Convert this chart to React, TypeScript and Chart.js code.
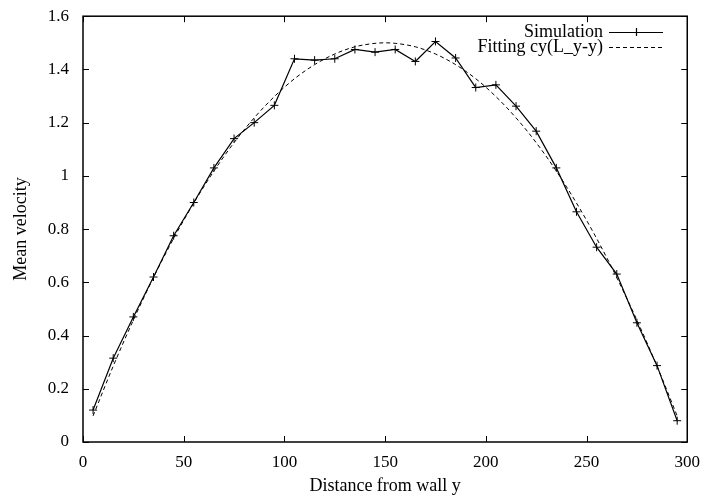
import React, { useEffect, useRef } from "react";
import { Chart, registerables } from "chart.js";

Chart.register(...registerables);

// Data
const simX = [5, 15, 25, 35, 45, 55, 65, 75, 85, 95, 105, 115, 125, 135, 145, 155, 165, 175, 185, 195, 205, 215, 225, 235, 245, 255, 265, 275, 285, 295];
const simY = [0.12, 0.315, 0.47, 0.62, 0.775, 0.9, 1.03, 1.14, 1.2, 1.265, 1.44, 1.435, 1.44, 1.475, 1.465, 1.475, 1.43, 1.505, 1.443, 1.332, 1.342, 1.262, 1.168, 1.03, 0.865, 0.732, 0.631, 0.448, 0.287, 0.08];
const fitX = [5, 15, 25, 35, 45, 55, 65, 75, 85, 95, 105, 115, 125, 135, 145, 150, 155, 165, 175, 185, 195, 205, 215, 225, 235, 245, 255, 265, 275, 285, 295];
const fitY = [0.098, 0.285, 0.458, 0.618, 0.765, 0.898, 1.018, 1.125, 1.218, 1.298, 1.365, 1.418, 1.458, 1.485, 1.498, 1.5, 1.498, 1.485, 1.458, 1.418, 1.365, 1.298, 1.218, 1.125, 1.018, 0.898, 0.765, 0.618, 0.458, 0.285, 0.098];
const seriesLabels = ["Simulation", "Fitting cy(L_y-y)"];
const xTitle = "Distance from wall y";
const yTitle = "Mean velocity";

const FONT = "'Liberation Serif', 'DejaVu Serif', serif";

const framePlugin = {
  id: "gnuFrame",
  afterDraw(chart: any) {
    const { ctx, chartArea: a, scales } = chart;
    ctx.save();
    ctx.strokeStyle = "#000";
    ctx.lineWidth = 1.5;
    ctx.strokeRect(a.left, a.top, a.right - a.left, a.bottom - a.top);
    ctx.lineWidth = 1;
    const L = 6;
    ctx.beginPath();
    for (const t of scales.x.ticks) {
      const px = Math.round(scales.x.getPixelForValue(t.value)) + 0.5;
      ctx.moveTo(px, a.bottom);
      ctx.lineTo(px, a.bottom - L);
      ctx.moveTo(px, a.top);
      ctx.lineTo(px, a.top + L);
    }
    for (const t of scales.y.ticks) {
      const py = Math.round(scales.y.getPixelForValue(t.value)) + 0.5;
      ctx.moveTo(a.left, py);
      ctx.lineTo(a.left + L, py);
      ctx.moveTo(a.right, py);
      ctx.lineTo(a.right - L, py);
    }
    ctx.stroke();

    // legend (gnuplot style: right-aligned text, sample to the right)
    const textRight = 603;
    const sx0 = 609;
    const sx1 = 663;
    const rows = [32, 47];
    ctx.font = `18px ${FONT}`;
    ctx.fillStyle = "#000";
    ctx.textAlign = "right";
    ctx.textBaseline = "middle";
    chart.data.datasets.forEach((ds: any, i: number) => {
      const y = rows[i];
      ctx.fillText(ds.label, textRight, y);
      ctx.beginPath();
      ctx.setLineDash(ds.borderDash || []);
      ctx.lineWidth = ds.borderWidth;
      ctx.moveTo(sx0, y + 0.5);
      ctx.lineTo(sx1, y + 0.5);
      ctx.stroke();
      ctx.setLineDash([]);
      if (ds.pointRadius > 0) {
        const cx = (sx0 + sx1) / 2;
        ctx.beginPath();
        ctx.moveTo(cx - 4, y + 0.5);
        ctx.lineTo(cx + 4, y + 0.5);
        ctx.moveTo(cx + 0.5, y - 4);
        ctx.lineTo(cx + 0.5, y + 4);
        ctx.stroke();
      }
    });
    ctx.restore();
  },
};

export default function App() {
  const ref = useRef<HTMLCanvasElement | null>(null);
  useEffect(() => {
    if (!ref.current) return;
    const chart = new Chart(ref.current, {
      type: "line",
      data: {
        datasets: [
          {
            label: seriesLabels[0],
            data: simX.map((x, i) => ({ x, y: simY[i] })),
            borderColor: "#000",
            backgroundColor: "#000",
            borderWidth: 1.2,
            pointStyle: "cross",
            pointRadius: 4,
            pointBorderWidth: 1,
            pointBorderColor: "#000",
            tension: 0,
            fill: false,
          },
          {
            label: seriesLabels[1],
            data: fitX.map((x, i) => ({ x, y: fitY[i] })),
            borderColor: "#000",
            borderWidth: 1,
            borderDash: [4, 3],
            pointRadius: 0,
            cubicInterpolationMode: "monotone",
            fill: false,
          },
        ],
      },
      options: {
        animation: false,
        responsive: false,
        layout: { padding: { top: 10, right: 9, bottom: 0, left: 0 } },
        plugins: { legend: { display: false }, tooltip: { enabled: false } },
        scales: {
          x: {
            type: "linear",
            min: 0,
            max: 300,
            grid: { display: false },
            border: { display: false },
            ticks: {
              stepSize: 50,
              color: "#000",
              padding: 2,
              maxRotation: 0,
              font: { family: FONT, size: 17 },
            },
            title: {
              display: true,
              text: xTitle,
              color: "#000",
              padding: { top: 0, bottom: 0 },
              font: { family: FONT, size: 18 },
            },
            afterFit: (s: any) => {
              s.height = 55;
            },
          },
          y: {
            type: "linear",
            min: 0,
            max: 1.6,
            grid: { display: false },
            border: { display: false },
            ticks: {
              stepSize: 0.2,
              color: "#000",
              padding: 6,
              font: { family: FONT, size: 17 },
              callback: (v: any) => String(Number(Number(v).toFixed(2))),
            },
            title: {
              display: true,
              text: yTitle,
              color: "#000",
              padding: { top: 10, bottom: 0 },
              font: { family: FONT, size: 18 },
            },
            afterFit: (s: any) => {
              s.width = 83;
            },
          },
        },
      },
      plugins: [framePlugin],
    });
    return () => chart.destroy();
  }, []);
  return (
    <div style={{ position: "absolute", left: 0, top: 0, width: 702, height: 497, background: "#fff" }}>
      <canvas ref={ref} width={702} height={497} style={{ display: "block" }} />
    </div>
  );
}
